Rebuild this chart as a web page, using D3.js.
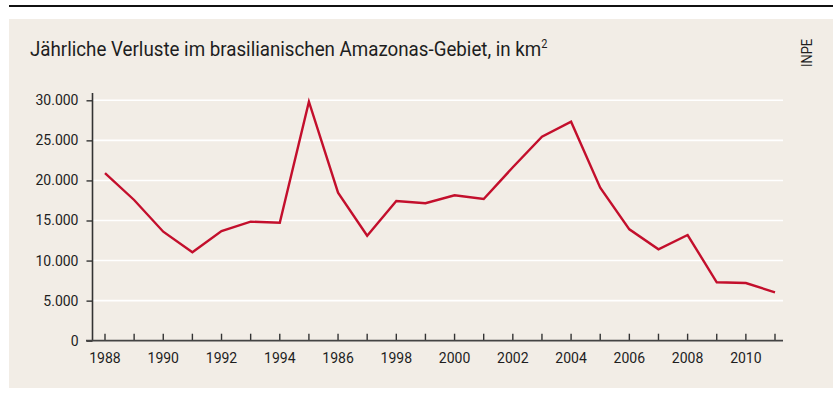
<!DOCTYPE html>
<html>
<head>
<meta charset="utf-8">
<script src="https://cdn.jsdelivr.net/npm/d3@7"></script>
<style>
  html, body { margin: 0; padding: 0; background: #ffffff; }
  svg { display: block; }
</style>
</head>
<body>
<svg id="chart" width="833" height="394"></svg>
<script>
// Annual deforestation in the Brazilian Amazon, km² (source: INPE)
const years = [1988, 1989, 1990, 1991, 1992, 1993, 1994, 1995, 1996, 1997, 1998, 1999,
               2000, 2001, 2002, 2003, 2004, 2005, 2006, 2007, 2008, 2009, 2010, 2011];
const losses = [20900, 17560, 13600, 11030, 13690, 14850, 14730, 29820, 18470, 13100, 17430, 17150,
                18140, 17680, 21640, 25460, 27330, 19090, 13900, 11400, 13190, 7290, 7200, 6040];
const yTicks = [0, 5000, 10000, 15000, 20000, 25000, 30000];
const xLabelYears = [1988, 1990, 1992, 1994, 1996, 1998, 2000, 2002, 2004, 2006, 2008, 2010];
const xLabelTexts = ["1988", "1990", "1992", "1994", "1986", "1998", "2000", "2002", "2004", "2006", "2008", "2010"];
const title = "Jährliche Verluste im brasilianischen Amazonas-Gebiet, in km";
const source = "INPE";

const svg = d3.select("#chart");
const W = 833, H = 394;
const font = "'Roboto', 'Liberation Sans', sans-serif";
const ink = "#1e1e1e";

// rule along the top and the beige panel
svg.append("rect").attr("x", 9).attr("y", 5).attr("width", W - 9).attr("height", 2).attr("fill", "#111");
svg.append("rect").attr("x", 9).attr("y", 19).attr("width", W - 9).attr("height", 369).attr("fill", "#f2ede6");

// title with superscript, set in a condensed cut
const t = svg.append("text").attr("transform", "translate(30,56) scale(0.915,1)")
  .attr("font-family", font).attr("font-size", 20.5).attr("fill", ink).text(title);
t.append("tspan").attr("dy", -8).attr("font-size", 12).text("2");

// source, rotated
svg.append("text").attr("transform", "translate(812,67) rotate(-90) scale(0.92,1)")
  .attr("font-family", font).attr("font-size", 14).attr("fill", ink).text(source);

const x0 = 92.5, x1 = 783, yTop = 100.3, yBase = 340.7;
const x = d3.scaleLinear().domain([1988, 2011]).range([105, 775]);
const y = d3.scaleLinear().domain([0, 30000]).range([yBase, yTop]);

// horizontal gridlines
svg.append("g").selectAll("line").data(yTicks.filter(d => d > 0)).join("line")
  .attr("x1", x0).attr("x2", x1)
  .attr("y1", d => y(d)).attr("y2", d => y(d))
  .attr("stroke", "#ffffff").attr("stroke-width", 1.6);

// y axis
const yAxis = svg.append("g").attr("transform", `translate(${x0},0)`)
  .call(d3.axisLeft(y).tickValues(yTicks).tickSize(6).tickPadding(8)
    .tickFormat(d => d3.format(",")(d).replace(/,/g, ".")));
yAxis.select(".domain").remove();
yAxis.selectAll(".tick line").attr("stroke", "#333").attr("stroke-width", 1.4);
yAxis.selectAll("text").attr("font-family", font).attr("font-size", 14).attr("fill", ink);
svg.append("line").attr("x1", x0).attr("x2", x0).attr("y1", 93).attr("y2", yBase)
  .attr("stroke", "#333").attr("stroke-width", 1.6);

// x axis: ticks every year pointing up, labels every two years
const xAxis = svg.append("g").attr("transform", `translate(0,${yBase})`);
xAxis.selectAll("line.tk").data(years).join("line").attr("class", "tk")
  .attr("x1", d => x(d)).attr("x2", d => x(d)).attr("y1", 0).attr("y2", -7)
  .attr("stroke", "#333").attr("stroke-width", 1.4);
xAxis.append("line").attr("x1", 86).attr("x2", x1).attr("y1", 0).attr("y2", 0)
  .attr("stroke", "#444").attr("stroke-width", 1.8);
xAxis.selectAll("text").data(xLabelYears).join("text")
  .attr("x", d => x(d)).attr("y", 22).attr("text-anchor", "middle")
  .attr("font-family", font).attr("font-size", 14).attr("fill", ink)
  .text((d, i) => xLabelTexts[i]);

// the series line
const line = d3.line().x((d, i) => x(years[i])).y(d => y(d));
svg.append("path").datum(losses).attr("d", line)
  .attr("fill", "none").attr("stroke", "#c30f2c").attr("stroke-width", 2.4)
  .attr("stroke-linejoin", "miter");
</script>
</body>
</html>
